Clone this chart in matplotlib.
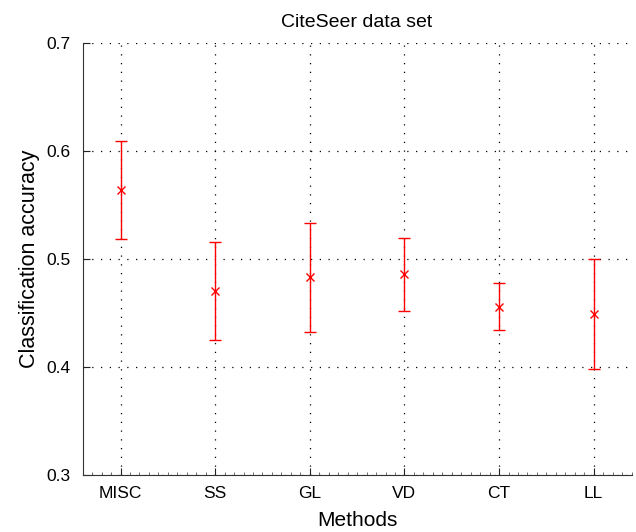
import numpy as np
import matplotlib
matplotlib.use('Agg')
import matplotlib.pyplot as plt
from matplotlib.ticker import MultipleLocator

# Data
methods = ['MISC', 'SS', 'GL', 'VD', 'CT', 'LL']
accuracy = [0.5635, 0.470, 0.4828, 0.4856, 0.4556, 0.4489]
error = [0.045, 0.0455, 0.0503, 0.034, 0.0216, 0.0507]

plt.rcParams['font.family'] = ['Liberation Sans', 'DejaVu Sans']

fig = plt.figure(figsize=(6.36, 5.32), dpi=100)
ax = fig.add_axes([0.130, 0.107, 0.863, 0.813])

x = np.arange(1, len(methods) + 1)
ax.errorbar(x, accuracy, yerr=error, fmt='x', color='red', ecolor='red',
            elinewidth=1.0, capsize=4, capthick=1.0, markersize=6,
            markeredgewidth=1.0, zorder=3)

ax.set_xlim(0.6, 6.4)
ax.set_ylim(0.3, 0.7)
ax.set_xticks(x)
ax.set_xticklabels(methods)
ax.set_yticks([0.3, 0.4, 0.5, 0.6, 0.7])
ax.xaxis.set_minor_locator(MultipleLocator(0.1))

ax.grid(True, which='major', linestyle=(0, (1, 6)), color='black', linewidth=0.9)
ax.spines['top'].set_visible(False)
ax.spines['right'].set_visible(False)
ax.spines['left'].set_color('#333333')
ax.spines['bottom'].set_color('#333333')

ax.tick_params(axis='both', which='major', direction='in', length=5,
               labelsize=12.5, colors='#222222', labelcolor='black')
ax.tick_params(axis='x', which='minor', direction='in', length=2.5,
               color='#555555')
ax.tick_params(axis='x', which='major', pad=8)
ax.tick_params(axis='y', which='major', pad=9)

ax.set_title('CiteSeer data set', fontsize=14, pad=11)
ax.set_xlabel('Methods', fontsize=15, labelpad=7)
ax.set_ylabel('Classification accuracy', fontsize=15.5, labelpad=4)

plt.savefig('out.png', dpi=100)
plt.close()
